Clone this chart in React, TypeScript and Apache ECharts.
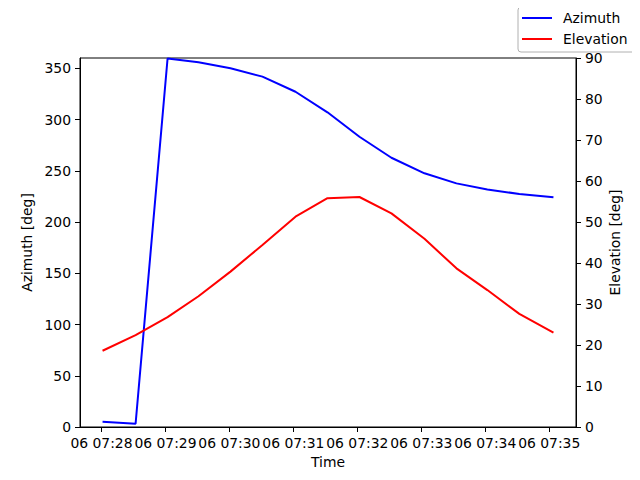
import { useEffect, useRef } from "react";
import * as echarts from "echarts";

// pass timestamps (UTC, day 06)
const TIMES = [
  "07:28:01", "07:28:32", "07:29:02", "07:29:31", "07:30:01",
  "07:30:31", "07:31:02", "07:31:32", "07:32:02", "07:32:32",
  "07:33:03", "07:33:33", "07:34:02", "07:34:32", "07:35:04",
];
const AZIMUTH = [5.2, 3.2, 359.5, 355.8, 350, 341.8, 327.1, 307, 283.2, 262.7, 247.5, 237.7, 231.8, 227.3, 224.1];
const ELEVATION = [18.6, 22.4, 26.8, 31.9, 37.9, 44.4, 51.3, 55.8, 56.1, 52.1, 45.9, 38.7, 33.4, 27.6, 23.0];
const X_TICKS = ["07:28", "07:29", "07:30", "07:31", "07:32", "07:33", "07:34", "07:35"];
const AZ_TICKS = [0, 50, 100, 150, 200, 250, 300, 350];

const FONT = { fontFamily: "'DejaVu Sans', sans-serif", color: "#000", fontSize: 13.9 };
const ts = (hms: string) => Date.parse(`2024-01-06T${hms}Z`);
const pad = (n: number) => String(n).padStart(2, "0");
const fmt = (v: number) => {
  const d = new Date(v);
  return `${pad(d.getUTCDate())} ${pad(d.getUTCHours())}:${pad(d.getUTCMinutes())}`;
};

export default function App() {
  const ref = useRef<HTMLDivElement>(null);
  useEffect(() => {
    if (!ref.current) return;
    const chart = echarts.init(ref.current, null, { renderer: "svg" });
    const t = TIMES.map(ts);
    const span = t[t.length - 1] - t[0];
    const xMin = t[0] - span * 0.05;
    const xMax = t[t.length - 1] + span * 0.05;
    const tick = { show: true, inside: false, length: 5, lineStyle: { color: "#000", width: 1 } };
    const line = { show: true, lineStyle: { color: "#000", width: 1 } };
    chart.setOption({
      animation: false,
      grid: { left: 80, right: 64, top: 58, bottom: 53, show: true, borderColor: "#000", borderWidth: 1 },
      legend: {
        orient: "vertical", left: 518, top: 7,
        padding: [3, 8, 5, 4], itemGap: 5, itemWidth: 30, itemHeight: 2, icon: "rect",
        borderColor: "#b0b0b0", borderWidth: 1, borderRadius: 3, backgroundColor: "rgba(255,255,255,0.8)",
        textStyle: { ...FONT, lineHeight: 16, padding: [0, 0, 0, 6] },
        data: ["Azimuth", "Elevation"],
      },
      xAxis: {
        type: "value", min: xMin, max: xMax,
        name: "Time", nameLocation: "middle", nameGap: 28, nameTextStyle: FONT,
        axisLine: line, axisTick: { ...tick, customValues: X_TICKS.map(ts) },
        axisLabel: { ...FONT, margin: 9, customValues: X_TICKS.map(ts), formatter: (v: number) => fmt(v) },
        splitLine: { show: false },
      },
      yAxis: [
        {
          type: "value", min: 0, max: 360, position: "left",
          name: "Azimuth [deg]", nameLocation: "middle", nameGap: 43, nameTextStyle: FONT,
          axisLine: line, axisTick: { ...tick, customValues: AZ_TICKS },
          axisLabel: { ...FONT, margin: 9, customValues: AZ_TICKS },
          splitLine: { show: false },
        },
        {
          type: "value", min: 0, max: 90, interval: 10, position: "right",
          name: "Elevation [deg]", nameLocation: "middle", nameGap: 39, nameRotate: 90,
          nameMoveOverlap: false,
          nameTextStyle: { ...FONT, verticalAlign: "middle" },
          axisLine: line, axisTick: tick,
          axisLabel: { ...FONT, margin: 9 },
          splitLine: { show: false },
        },
      ],
      series: [
        {
          name: "Azimuth", type: "line", yAxisIndex: 0, symbol: "none",
          lineStyle: { color: "#0000ff", width: 2 }, itemStyle: { color: "#0000ff" },
          data: t.map((x, i) => [x, AZIMUTH[i]]),
        },
        {
          name: "Elevation", type: "line", yAxisIndex: 1, symbol: "none",
          lineStyle: { color: "#ff0000", width: 2 }, itemStyle: { color: "#ff0000" },
          data: t.map((x, i) => [x, ELEVATION[i]]),
        },
      ],
    });
    return () => chart.dispose();
  }, []);
  return <div ref={ref} style={{ width: 640, height: 480, margin: -8 }} />;
}
